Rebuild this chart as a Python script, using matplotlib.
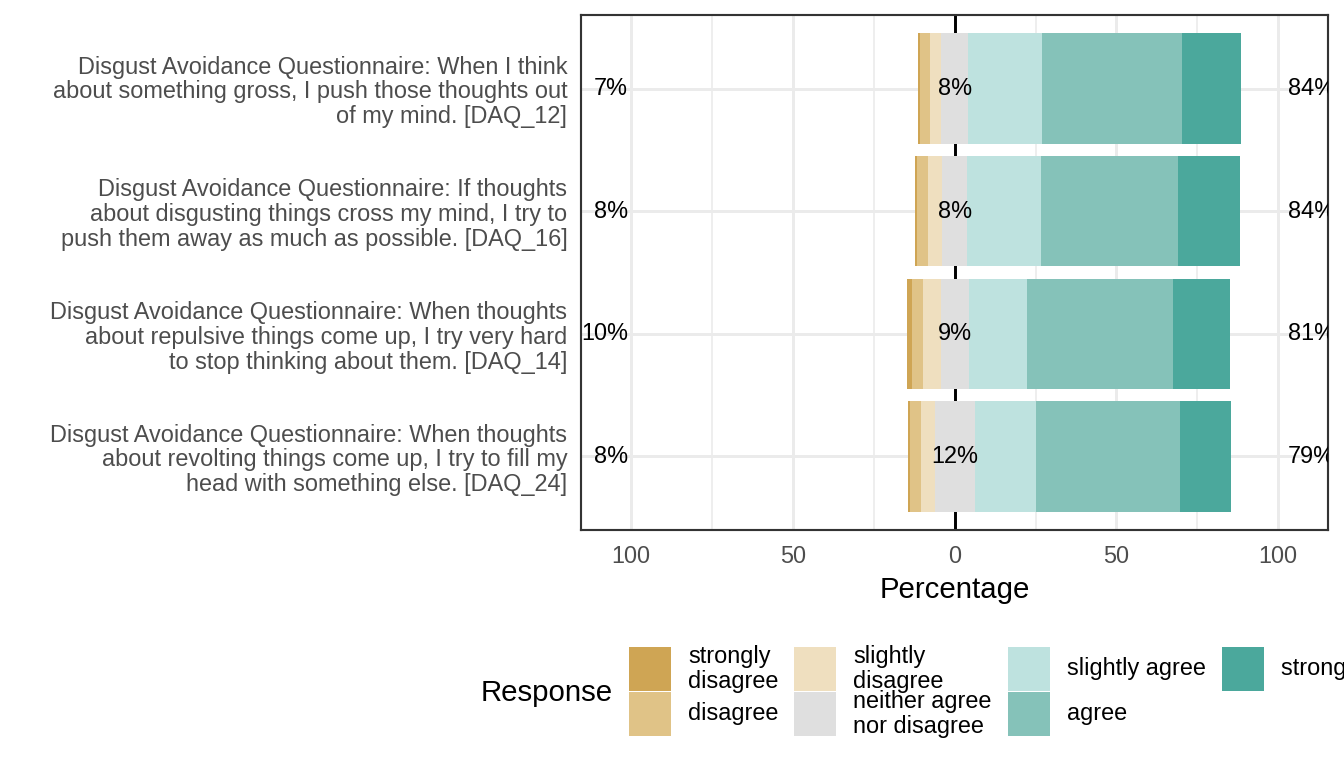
import matplotlib
matplotlib.use('Agg')
import matplotlib.pyplot as plt
from matplotlib.patches import Rectangle

plt.rcParams['font.family'] = ['Liberation Sans', 'DejaVu Sans']

# ---- data (top to bottom) ----
items = [
    "Disgust Avoidance Questionnaire: When I think\nabout something gross, I push those thoughts out\nof my mind. [DAQ_12]",
    "Disgust Avoidance Questionnaire: If thoughts\nabout disgusting things cross my mind, I try to\npush them away as much as possible. [DAQ_16]",
    "Disgust Avoidance Questionnaire: When thoughts\nabout repulsive things come up, I try very hard\nto stop thinking about them. [DAQ_14]",
    "Disgust Avoidance Questionnaire: When thoughts\nabout revolting things come up, I try to fill my\nhead with something else. [DAQ_24]",
]
levels = ["strongly disagree", "disagree", "slightly disagree",
          "neither agree nor disagree", "slightly agree", "agree", "strongly agree"]
legend_labels = ["strongly\ndisagree", "disagree", "slightly\ndisagree",
                 "neither agree\nnor disagree", "slightly agree", "agree", "strongly agree"]
colors = ["#CFA554", "#E0C387", "#EFDFBF", "#DFDFDF", "#BEE2DF", "#85C2B9", "#4BA89C"]

strongly_disagree = [0.6, 0.5, 1.5, 0.6]
disagree = [3.1, 3.5, 3.4, 3.4]
slightly_disagree = [3.6, 4.3, 5.4, 4.4]
neutral = [8.2, 7.7, 8.7, 12.3]
slightly_agree = [22.8, 22.8, 17.9, 19.1]
agree = [43.4, 42.3, 45.1, 44.4]
strongly_agree = [18.2, 19.1, 17.9, 15.7]

xticks = [-100, -50, 0, 50, 100]
xtick_labels = ["100", "50", "0", "50", "100"]

# ---- figure ----
W, H = 1344, 768
fig = plt.figure(figsize=(7, 4), dpi=192)
ax = fig.add_axes([580.7 / W, 1 - 530 / H, (1328 - 580.7) / W, (530 - 15) / H])

n = len(items)
ypos = [n - i for i in range(n)]
bh = 0.9

for i in range(n):
    y = ypos[i]
    half = neutral[i] / 2.0
    # negative side
    left = -half
    for val, c in zip([slightly_disagree[i], disagree[i], strongly_disagree[i]],
                      [colors[2], colors[1], colors[0]]):
        ax.barh(y, -val, left=left, height=bh, color=c, edgecolor='none', zorder=3)
        left -= val
    # neutral
    ax.barh(y, neutral[i], left=-half, height=bh, color=colors[3], edgecolor='none', zorder=3)
    # positive side
    left = half
    for val, c in zip([slightly_agree[i], agree[i], strongly_agree[i]],
                      [colors[4], colors[5], colors[6]]):
        ax.barh(y, val, left=left, height=bh, color=c, edgecolor='none', zorder=3)
        left += val
    neg = strongly_disagree[i] + disagree[i] + slightly_disagree[i]
    pos = slightly_agree[i] + agree[i] + strongly_agree[i]
    ax.text(-101, y, f"{round(neg):.0f}%", ha='right', va='center', fontsize=8.8,
            color='black', zorder=5, clip_on=True)
    ax.text(103, y, f"{round(pos):.0f}%", ha='left', va='center', fontsize=8.8,
            color='black', zorder=5, clip_on=True)
    ax.text(0, y, f"{round(neutral[i]):.0f}%", ha='center', va='center', fontsize=8.8,
            color='black', zorder=5)

ax.axvline(0, color='black', lw=1.1, zorder=2)

ax.set_xlim(-115.6, 115.4)
ax.set_ylim(0.4, 4.6)
ax.set_xticks(xticks)
ax.set_xticklabels(xtick_labels)
ax.set_xticks([-75, -25, 25, 75], minor=True)
ax.set_yticks(ypos)
ax.set_yticklabels(items, linespacing=1.1)
ax.grid(True, which='major', color='#EBEBEB', lw=1.1, zorder=0)
ax.grid(True, which='minor', axis='x', color='#EBEBEB', lw=0.6, zorder=0)
ax.set_axisbelow(True)
ax.tick_params(axis='both', which='both', length=0, labelsize=8.8, labelcolor='#4D4D4D')
ax.tick_params(axis='x', pad=5.5)
ax.tick_params(axis='y', pad=5)
for s in ax.spines.values():
    s.set_color('#333333')
    s.set_linewidth(0.8)
ax.set_xlabel("Percentage", fontsize=11, color='black', labelpad=3)

# ---- legend (bottom, manual layout) ----
key_x = [629, 629, 794, 794, 1008, 1008, 1222]
key_row = [0, 1, 0, 1, 0, 1, 0]
text_x = [688, 688, 853, 853, 1067, 1067, 1281]
row_top = [647, 692]
ks_w, ks_h = 42, 43.5
for k in range(len(levels)):
    top = row_top[key_row[k]]
    fig.add_artist(Rectangle((key_x[k] / W, 1 - (top + ks_h) / H), ks_w / W, ks_h / H,
                             transform=fig.transFigure, facecolor=colors[k], edgecolor='none'))
    fig.text(text_x[k] / W, 1 - (top + ks_h / 2) / H, legend_labels[k], ha='left', va='center',
             fontsize=8.8, color='black', linespacing=1.1)
fig.text(481 / W, 1 - 693 / H, "Response", ha='left', va='center', fontsize=11, color='black')

fig.savefig("out.png", dpi=192)
